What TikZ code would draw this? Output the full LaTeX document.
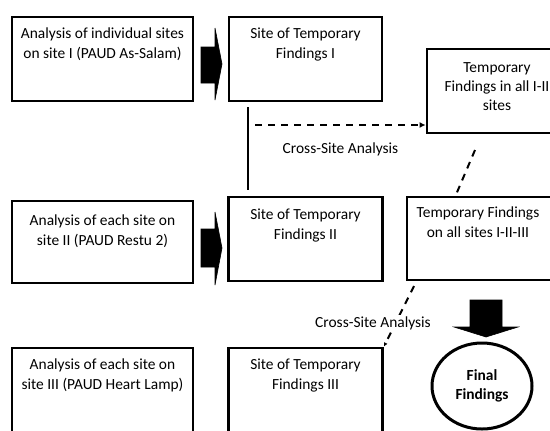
\documentclass[tikz,border=0pt]{standalone}
\usepackage{fontspec}
\setmainfont{Carlito}
\usetikzlibrary{shapes.geometric,arrows.meta,calc}
\begin{document}
\begin{tikzpicture}[x=1bp,y=-1bp,
  box/.style={draw, line width=2.8bp, inner sep=0pt},
  txt/.style={align=center, inner sep=0pt, anchor=north, font=\fontsize{15.5}{19.5}\selectfont},
  lbl/.style={inner sep=1pt, font=\fontsize{15.5}{19.5}\selectfont},
  bigarrow/.style={fill=black, draw=black, line width=0.6bp, line join=miter},
  conn/.style={line width=2.2bp},
  dconn/.style={line width=2bp, dash pattern=on 7bp off 6bp}
]
\useasboundingbox (0,0) rectangle (550,430);
\clip (0,0) rectangle (550,430);
\fill[white] (0,0) rectangle (550,430);
% boxes
\node[box, minimum width=181bp, minimum height=84bp] (a1) at (102.5,59) {};
\node[box, minimum width=153bp, minimum height=84bp] (b1) at (305.5,59) {};
\node[box, minimum width=140bp, minimum height=84bp] (c1) at (497,91) {};
\node[box, minimum width=181bp, minimum height=82bp] (a2) at (102.5,242) {};
\node[box, minimum width=154bp, minimum height=84bp] (b2) at (305.5,239) {};
\node[box, minimum width=144bp, minimum height=83bp] (c2) at (479,238.5) {};
\node[box, minimum width=181bp, minimum height=102bp] (a3) at (102.5,399) {};
\node[box, minimum width=154bp, minimum height=102bp] (b3) at (305.5,399) {};
% texts
\node[txt] (a1t) at (102.5,28) {Analysis of individual sites\\on site I (PAUD As-Salam)};
\node[txt] (b1t) at (305.5,28) {Site of Temporary\\Findings I};
\node[txt] (c1t) at (497,62) {Temporary\\Findings in all I-II\\sites};
\node[txt] (a2t) at (102.5,215) {Analysis of each site on\\site II (PAUD Restu 2)};
\node[txt] (b2t) at (305.5,209) {Site of Temporary\\Findings II};
\node[txt] (c2t) at (478,207) {Temporary Findings\\on all sites I-II-III};
\node[txt] (a3t) at (102.5,359) {Analysis of each site on\\site III (PAUD Heart Lamp)};
\node[txt] (b3t) at (305.5,359) {Site of Temporary\\Findings III};
% final ellipse
\node[draw, ellipse, line width=3bp, minimum width=100bp, minimum height=86bp, align=center, inner sep=0pt,
  font=\fontsize{15.5}{19.5}\selectfont\bfseries] (ff) at (482,386) {Final\\Findings};
% big arrows
\path[bigarrow] (201,47) -- (215,47) -- (215,28) -- (222,64) -- (215,100) -- (215,83) -- (201,83) -- cycle;
\path[bigarrow] (201,229) -- (215,229) -- (215,212) -- (222,248) -- (215,285) -- (215,267) -- (201,267) -- cycle;
\path[bigarrow] (470,300) -- (502,300) -- (502,327) -- (518,327) -- (486,337) -- (454,327) -- (470,327) -- cycle;
% connectors
\coordinate (v1) at (248,107);
\coordinate (v2) at (248,190);
\draw[conn] (v1) -- (v2);
\coordinate (d1) at (255,125);
\draw[dconn, -{Latex[length=6bp,width=6bp]}] (d1) -- (d1 -| c1.west);
\node[lbl] (l1) at (340.5,149) {Cross-Site Analysis};
\coordinate (e1) at (475,150);
\coordinate (e2) at (455,197);
\draw[dconn] (e1) -- (e2);
\coordinate (f1) at (414,286);
\draw[dconn, -{Latex[length=4bp,width=4bp]}] (f1) -- (b3.north east);
\node[lbl, fill=white] (l2) at (373,323) {Cross-Site Analysis};
\end{tikzpicture}
\end{document}
